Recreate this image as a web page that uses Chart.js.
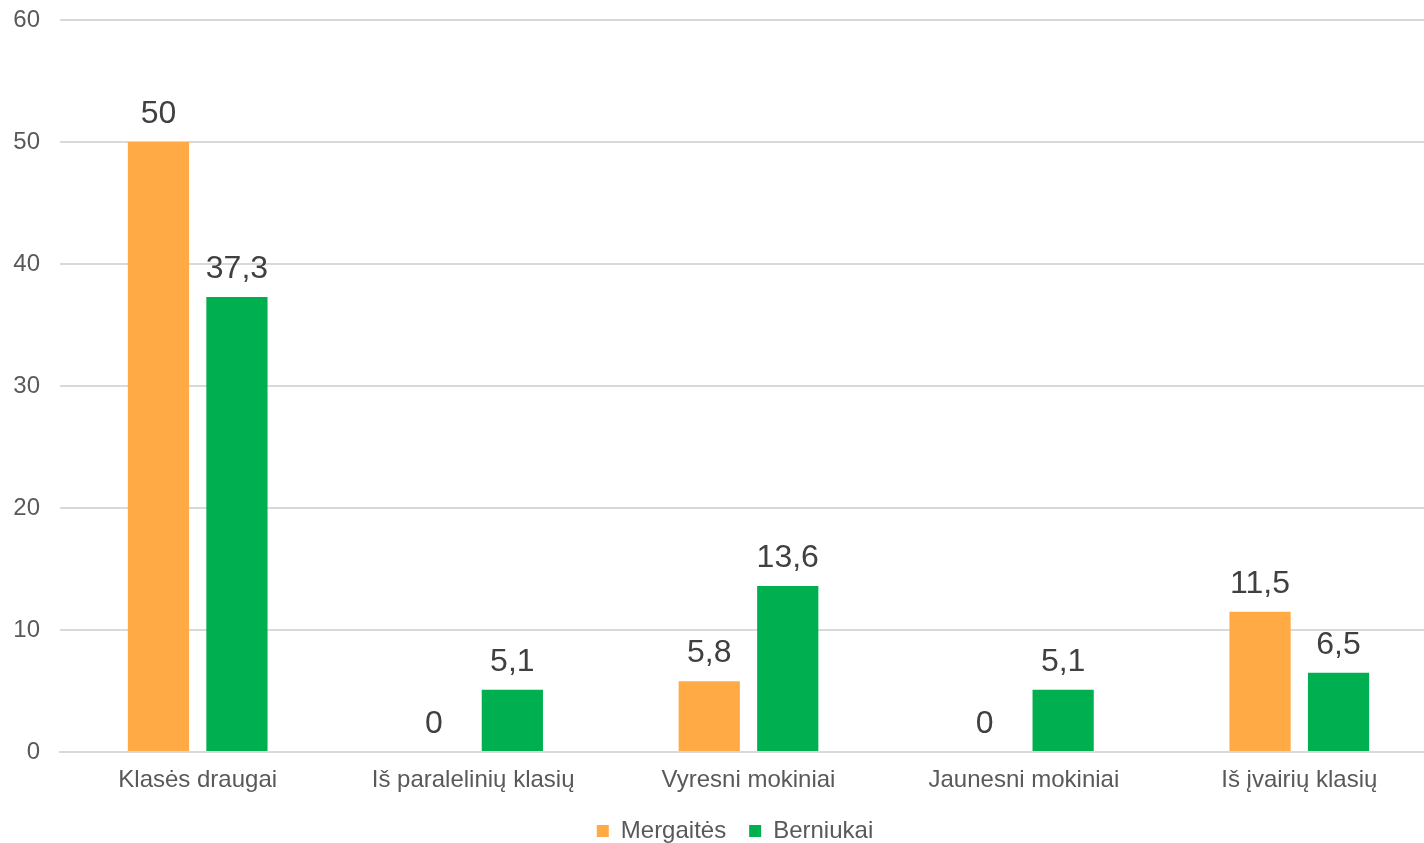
<!DOCTYPE html>
<html>
<head>
<meta charset="utf-8">
<script src="https://cdn.jsdelivr.net/npm/chart.js@4/dist/chart.umd.min.js"></script>
<style>
  html, body { margin: 0; padding: 0; background: #fff; overflow: hidden; }
  #wrap { width: 1470px; height: 853px; }
</style>
</head>
<body>
<div id="wrap"><canvas id="chart"></canvas></div>
<script>
var categories = ['Klasės draugai', 'Iš paralelinių klasių', 'Vyresni mokiniai', 'Jaunesni mokiniai', 'Iš įvairių klasių'];
var mergaites = [50, 0, 5.8, 0, 11.5];
var berniukai = [37.3, 5.1, 13.6, 5.1, 6.5];
var yTicks = [0, 10, 20, 30, 40, 50, 60];

var fontName = '"Liberation Sans", Arial, sans-serif';

// value labels above the bars, comma as decimal sign
var valueLabels = {
  id: 'valueLabels',
  afterDatasetsDraw: function(chart) {
    var ctx = chart.ctx;
    ctx.save();
    ctx.font = '32px ' + fontName;
    ctx.fillStyle = '#404040';
    ctx.textAlign = 'center';
    ctx.textBaseline = 'middle';
    chart.data.datasets.forEach(function(ds, i) {
      chart.getDatasetMeta(i).data.forEach(function(bar, j) {
        var txt = String(ds.data[j]).replace('.', ',');
        ctx.fillText(txt, bar.x, bar.y - 28);
      });
    });
    ctx.restore();
  }
};

// centre the legend on the whole canvas, not only the padded area
var legendFull = {
  id: 'legendFull',
  afterLayout: function(chart) {
    var lg = chart.legend;
    lg.left = 0;
    lg.right = chart.width;
    lg.width = chart.width;
  }
};

var chart = new Chart(document.querySelector('#chart'), {
  type: 'bar',
  data: {
    labels: categories,
    datasets: [{
      label: 'Mergaitės',
      data: mergaites,
      backgroundColor: '#FFAA44',
      borderWidth: 0,
      categoryPercentage: 0.57,
      barPercentage: 0.78
    }, {
      label: 'Berniukai',
      data: berniukai,
      backgroundColor: '#00AF50',
      borderWidth: 0,
      categoryPercentage: 0.57,
      barPercentage: 0.78
    }]
  },
  options: {
    responsive: true,
    maintainAspectRatio: false,
    animation: false,
    layout: {
      padding: { top: 0, right: 33, bottom: 0, left: 0 }
    },
    plugins: {
      legend: {
        position: 'bottom',
        labels: {
          boxWidth: 12,
          boxHeight: 12,
          padding: 23,
          color: '#595959',
          font: { family: fontName, size: 24 }
        }
      },
      tooltip: { enabled: false }
    },
    scales: {
      x: {
        afterFit: function(scale) { scale.height = 44; },
        grid: { display: false, drawTicks: false },
        border: { color: '#D9D9D9', width: 2 },
        ticks: {
          color: '#595959',
          padding: 14,
          font: { family: fontName, size: 24 }
        }
      },
      y: {
        min: 0,
        max: 60,
        afterBuildTicks: function(scale) {
          scale.ticks = yTicks.map(function(v) { return { value: v }; });
        },
        afterFit: function(scale) {
          scale.width = 60;
          scale.paddingTop = 20;
        },
        grid: { color: '#D9D9D9', lineWidth: 2, drawTicks: false },
        border: { display: false },
        ticks: {
          color: '#595959',
          padding: 20,
          font: { family: fontName, size: 24 }
        }
      }
    }
  },
  plugins: [valueLabels, legendFull]
});
</script>
</body>
</html>
